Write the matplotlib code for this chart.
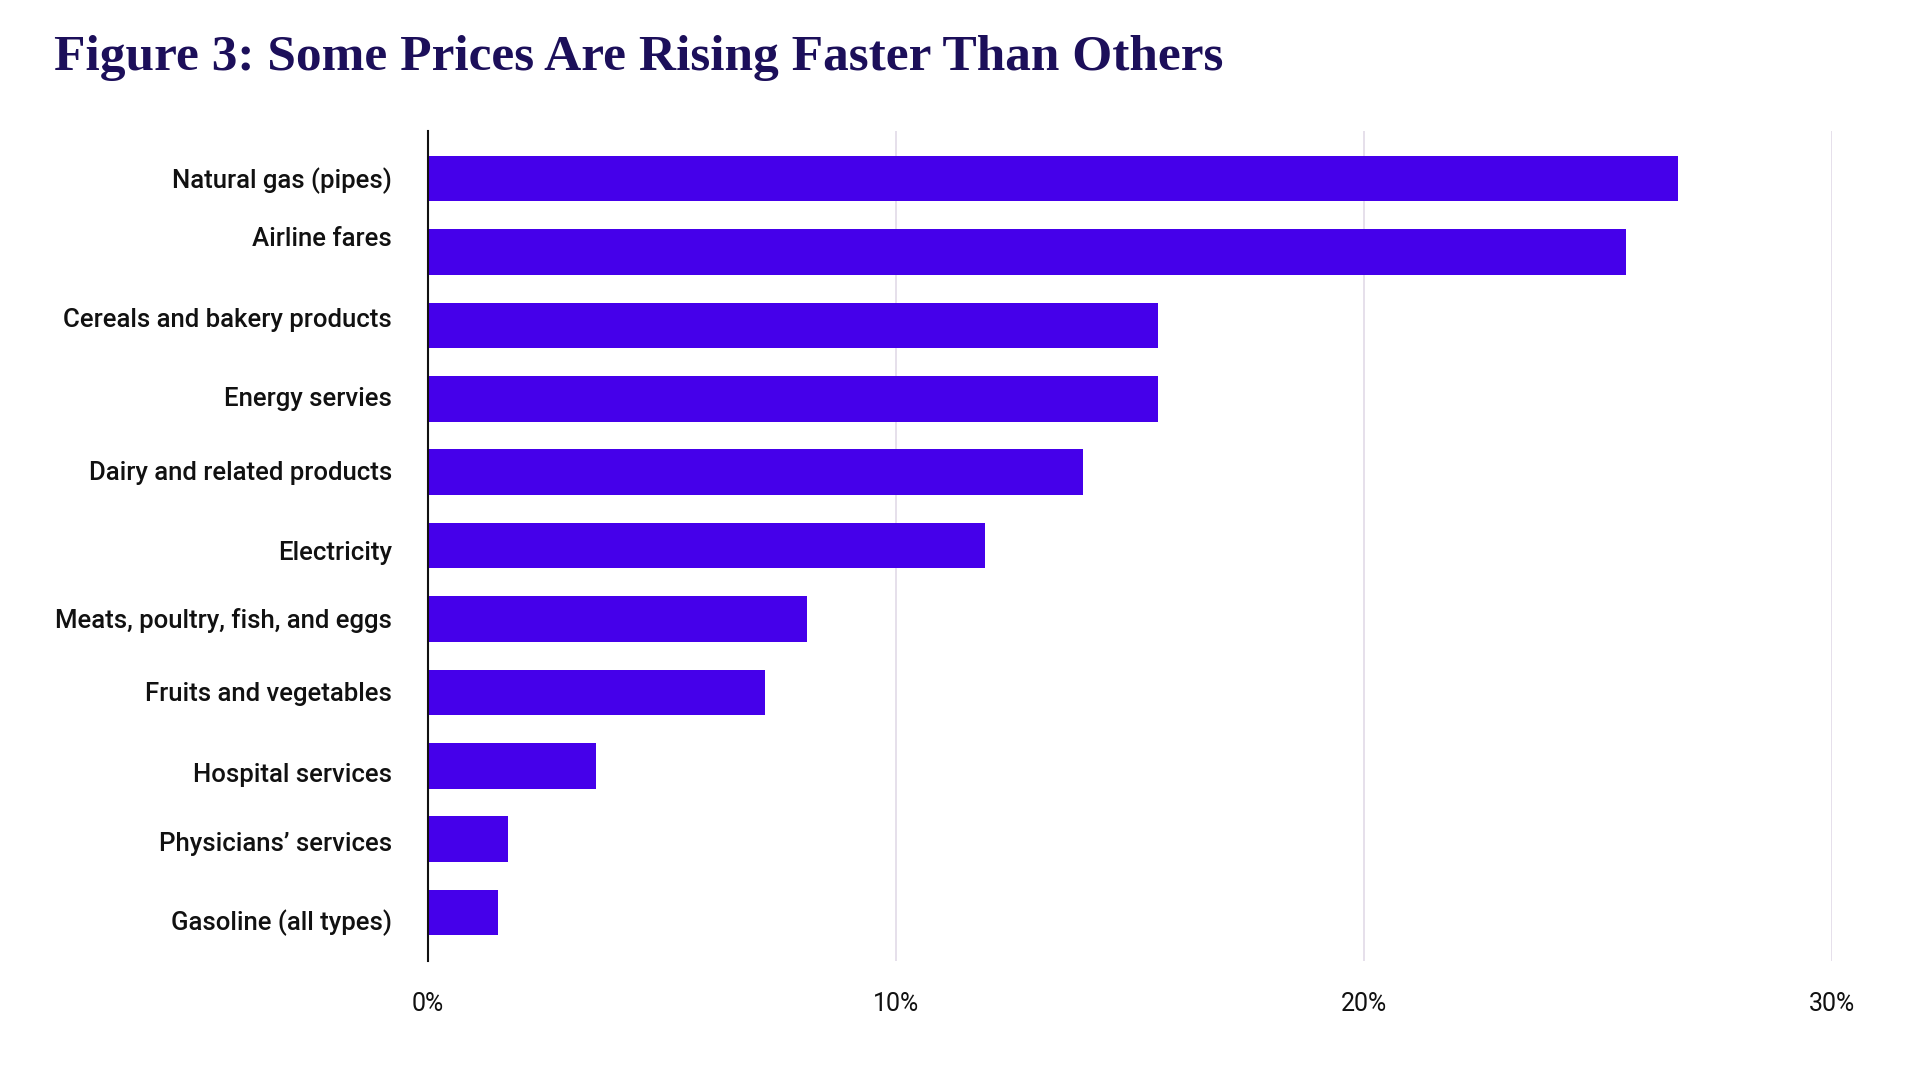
#!/usr/bin/env python
"""price increases by category, horizontal bars"""

import matplotlib
matplotlib.use("Agg")
from matplotlib import pyplot as plt
from matplotlib import transforms
from matplotlib.ticker import FuncFormatter

categories = [
	"Natural gas (pipes)",
	"Airline fares",
	"Cereals and bakery products",
	"Energy servies",
	"Dairy and related products",
	"Electricity",
	"Meats, poultry, fish, and eggs",
	"Fruits and vegetables",
	"Hospital services",
	"Physicians\u2019 services",
	"Gasoline (all types)",
]
values = [26.7, 25.6, 15.6, 15.6, 14.0, 11.9, 8.1, 7.2, 3.6, 1.7, 1.5]
xticks = [0, 10, 20, 30]

bar_color = "#4500EA"
title_color = "#1C0F5A"

plt.rcParams['font.family'] = ['Roboto', 'DejaVu Sans']

fig = plt.figure(figsize=(19.2, 10.8), dpi=100)
ax = fig.add_axes([0.2229, 0.1102, 0.7313, 0.7685])

pos = list(range(len(categories)))
ax.barh(pos, values, height=0.62, color=bar_color, zorder=3)

ax.set_xlim(0, 30)
ax.set_ylim(10.66, -0.65)
ax.set_xticks(xticks)
ax.xaxis.set_major_formatter(FuncFormatter(lambda v, p: "%d%%" % v))
ax.set_yticks(pos)
ax.set_yticklabels(categories, fontweight=500)
ax.tick_params(axis='both', length=0, colors="#111111")
ax.tick_params(axis='y', labelsize=18.5, pad=26)
ax.tick_params(axis='x', labelsize=18, pad=22)

# labels in the original sit a little off the bar centres
nudge = [1, 11, 6, 2, 1, -3.5, 1, 1, -5, -2, -5]
for lab, dy in zip(ax.get_yticklabels(), nudge):
	lab.set_transform(lab.get_transform() + transforms.ScaledTranslation(0, dy / 72, fig.dpi_scale_trans))

ax.grid(axis='x', color="#E2DAE8", linewidth=1.2, zorder=0)
for s in ['top', 'right', 'bottom']:
	ax.spines[s].set_visible(False)
ax.spines['left'].set_color("#111111")
ax.spines['left'].set_linewidth(1.5)
ax.spines['left'].set_zorder(4)

fig.text(0.028, 0.946, "Figure 3: Some Prices Are Rising Faster Than Others",
	family="Liberation Serif", fontweight="bold", fontsize=37, color=title_color,
	va="center", ha="left")

fig.savefig("out.png", dpi=100, facecolor="white")
